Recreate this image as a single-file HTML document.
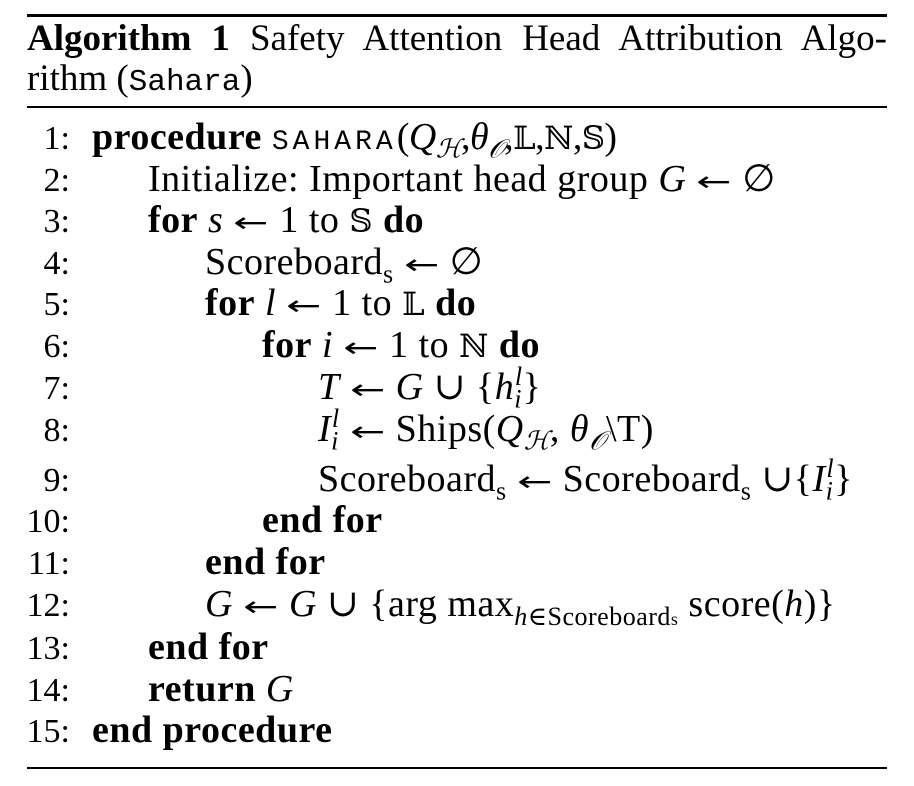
<!DOCTYPE html>
<html><head><meta charset="utf-8"><style>
html,body{margin:0;padding:0;background:#fff;width:914px;height:786px;overflow:hidden}
body{position:relative;font-family:"Liberation Serif","DejaVu Serif",serif;font-size:38px;color:#000;letter-spacing:0.5px}
.r{position:absolute;left:27px;width:860px;background:#000}
.l{position:absolute;line-height:32px;white-space:nowrap}
.n{position:absolute;left:0;width:70px;text-align:right;line-height:32px;font-size:34px;letter-spacing:0}
b{font-weight:bold}
i{font-style:italic}
.sc{font-family:"Liberation Mono",monospace;font-size:28px;letter-spacing:4px}
.tt{font-family:"Liberation Mono",monospace;font-size:31px;letter-spacing:0}
sub,sup{font-size:26px;line-height:0}
.bb{font-family:"DejaVu Serif",serif;font-size:32px}
.a{display:inline-block;width:40px;text-align:center;margin:0 8px;font-family:"DejaVu Sans",sans-serif;font-size:28px;font-weight:normal}
.a span{display:inline-block;transform:scaleX(1.5)}
.m{letter-spacing:-0.5px}
</style></head><body>
<div class="r" style="top:14px;height:3px"></div>
<div class="l" style="left:27px;top:23px;width:860px;text-align:justify;text-align-last:justify;letter-spacing:0;font-size:37px"><b>Algorithm 1</b> Safety Attention Head Attribution Algo-</div>
<div class="l" style="left:27px;top:63px;letter-spacing:0;font-size:37px">rithm (<span class="tt">Sahara</span>)</div>
<div class="r" style="top:106px;height:2px"></div>

<div class="n" style="top:123px">1:</div>
<div class="l" style="left:92px;top:121px"><b>procedure</b> <span class="sc">SAHARA</span><span class="m">(<i>Q</i><sub><i>ℋ</i></sub>,<i>θ</i><sub><i>𝒪</i></sub>,<span class="bb">𝕃</span>,<span class="bb">ℕ</span>,<span class="bb">𝕊</span>)</span></div>
<div class="n" style="top:165px">2:</div>
<div class="l" style="left:148px;top:163px">Initialize: Important head group <i>G</i><span class="a"><span>←</span></span>∅</div>
<div class="n" style="top:206px">3:</div>
<div class="l" style="left:148px;top:204px"><b>for</b> <i>s</i><span class="a"><span>←</span></span>1 to <span class="bb">𝕊</span> <b>do</b></div>
<div class="n" style="top:248px">4:</div>
<div class="l" style="left:205px;top:246px">Scoreboard<sub>s</sub><span class="a"><span>←</span></span>∅</div>
<div class="n" style="top:289px">5:</div>
<div class="l" style="left:205px;top:287px"><b>for</b> <i>l</i><span class="a"><span>←</span></span>1 to <span class="bb">𝕃</span> <b>do</b></div>
<div class="n" style="top:331px">6:</div>
<div class="l" style="left:262px;top:329px"><b>for</b> <i>i</i><span class="a"><span>←</span></span>1 to <span class="bb">ℕ</span> <b>do</b></div>
<div class="n" style="top:373px">7:</div>
<div class="l" style="left:318px;top:371px"><i>T</i><span class="a"><span>←</span></span><i>G</i> ∪ {<i>h</i><sub><i>i</i></sub><sup style="margin-left:-7px"><i>l</i></sup>}</div>
<div class="n" style="top:415px">8:</div>
<div class="l" style="left:318px;top:413px"><i>I</i><sub><i>i</i></sub><sup style="margin-left:-7px"><i>l</i></sup><span class="a"><span>←</span></span>Ships(<i>Q</i><sub><i>ℋ</i></sub>, <i>θ</i><sub><i>𝒪</i></sub>\T)</div>
<div class="n" style="top:465px">9:</div>
<div class="l" style="left:318px;top:463px">Scoreboard<sub>s</sub><span class="a"><span>←</span></span>Scoreboard<sub>s</sub> ∪{<i>I</i><sub><i>i</i></sub><sup style="margin-left:-7px"><i>l</i></sup>}</div>
<div class="n" style="top:506px">10:</div>
<div class="l" style="left:262px;top:504px"><b>end for</b></div>
<div class="n" style="top:548px">11:</div>
<div class="l" style="left:205px;top:546px"><b>end for</b></div>
<div class="n" style="top:590px">12:</div>
<div class="l" style="left:205px;top:588px"><i>G</i><span class="a"><span>←</span></span><i>G</i> ∪ {arg max<sub><i>h</i>∈Scoreboard<span style="font-size:18px">s</span></sub> score(<i>h</i>)}</div>
<div class="n" style="top:633px">13:</div>
<div class="l" style="left:148px;top:631px"><b>end for</b></div>
<div class="n" style="top:675px">14:</div>
<div class="l" style="left:148px;top:673px"><b>return</b> <i>G</i></div>
<div class="n" style="top:716px">15:</div>
<div class="l" style="left:92px;top:714px"><b>end procedure</b></div>
<div class="r" style="top:767px;height:2px"></div>
</body></html>
